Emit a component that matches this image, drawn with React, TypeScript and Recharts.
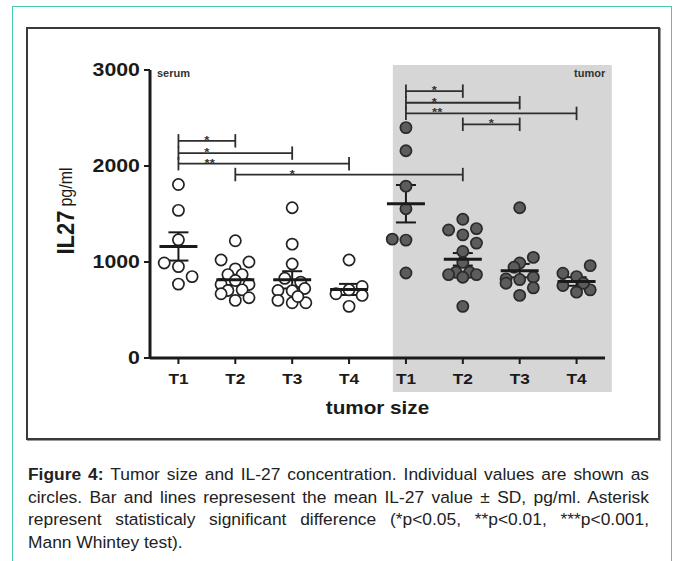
import {
  ScatterChart,
  Scatter,
  XAxis,
  YAxis,
  ErrorBar,
  ReferenceLine,
  ReferenceArea,
  Label,
} from "recharts";

const FONT = "'Liberation Sans', Arial, Helvetica, sans-serif";
const TEAL = "#48c9b4";
const INK = "#1a1a1a";
const CAP = 70;

const GROUP_LABELS = ["T1", "T2", "T3", "T4", "T1", "T2", "T3", "T4"];
const GROUP_POS = [1, 2, 3, 4, 5, 6, 7, 8];
const Y_TICKS = [0, 1000, 2000, 3000];

// individual values (x = group position + jitter)
const serumPoints = [
  { x: 1, y: 1807 }, { x: 1, y: 1538 }, { x: 1, y: 1231 }, { x: 0.75, y: 990 },
  { x: 1, y: 952 }, { x: 1.24, y: 848 }, { x: 1, y: 770 },
  { x: 2, y: 1221 }, { x: 1.75, y: 1021 }, { x: 2.24, y: 1000 }, { x: 2, y: 928 },
  { x: 1.87, y: 869 }, { x: 2.12, y: 869 }, { x: 1.75, y: 766 }, { x: 2, y: 807 },
  { x: 2.24, y: 766 }, { x: 1.87, y: 703 }, { x: 2.12, y: 710 }, { x: 1.75, y: 669 },
  { x: 2, y: 600 }, { x: 2.24, y: 628 },
  { x: 3, y: 1565 }, { x: 3, y: 1186 }, { x: 3, y: 979 }, { x: 2.87, y: 830 },
  { x: 3.15, y: 790 }, { x: 2.75, y: 703 }, { x: 3, y: 700 }, { x: 3.22, y: 724 },
  { x: 2.75, y: 600 }, { x: 3, y: 575 }, { x: 3.24, y: 575 }, { x: 3.1, y: 640 },
  { x: 4, y: 1021 }, { x: 3.77, y: 669 }, { x: 4, y: 710 }, { x: 4.23, y: 745 },
  { x: 4.23, y: 652 }, { x: 4, y: 538 },
];

const tumorPoints = [
  { x: 5, y: 2400 }, { x: 5, y: 2159 }, { x: 5, y: 1790 }, { x: 5, y: 1555 },
  { x: 4.76, y: 1238 }, { x: 5, y: 1228 }, { x: 5, y: 886 },
  { x: 6, y: 1445 }, { x: 5.75, y: 1334 }, { x: 6.24, y: 1348 }, { x: 6, y: 1283 },
  { x: 6.24, y: 1197 }, { x: 6, y: 1110 }, { x: 6, y: 996 }, { x: 5.88, y: 893 },
  { x: 6.12, y: 893 }, { x: 5.75, y: 869 }, { x: 6, y: 841 }, { x: 6.24, y: 869 },
  { x: 6, y: 538 },
  { x: 7, y: 1565 }, { x: 7.24, y: 1048 }, { x: 7, y: 990 }, { x: 6.9, y: 945 },
  { x: 6.76, y: 824 }, { x: 6.76, y: 779 }, { x: 7, y: 817 }, { x: 7.24, y: 841 },
  { x: 7.24, y: 731 }, { x: 7, y: 652 },
  { x: 7.76, y: 883 }, { x: 8, y: 848 }, { x: 8.24, y: 962 }, { x: 7.76, y: 755 },
  { x: 8, y: 686 }, { x: 8.24, y: 710 }, { x: 8.12, y: 779 },
];

const groupMeans = [1162, 814, 814, 714, 1607, 1028, 910, 797];
const groupSem = [147, 55, 90, 58, 195, 65, 70, 45];

// significance brackets
const brackets = [
  { from: 1, to: 2, y: 2262, label: "*", starX: 1.5 },
  { from: 1, to: 3, y: 2134, label: "*", starX: 1.5 },
  { from: 1, to: 4, y: 2024, label: "**", starX: 1.55 },
  { from: 2, to: 6, y: 1911, label: "*", starX: 3 },
  { from: 5, to: 6, y: 2780, label: "*", starX: 5.5 },
  { from: 5, to: 7, y: 2659, label: "*", starX: 5.5 },
  { from: 5, to: 8, y: 2548, label: "**", starX: 5.55 },
  { from: 6, to: 7, y: 2434, label: "*", starX: 6.5 },
];

// caption, one entry per printed line
const captionLines = [
  "Tumor size and IL-27 concentration. Individual values are shown as",
  "circles. Bar and lines represesent the mean IL-27 value ± SD, pg/ml. Asterisk",
  "represent statisticaly significant difference (*p<0.05, **p<0.01, ***p<0.001,",
  "Mann Whintey test).",
];

const meanData = GROUP_POS.map((x, i) => ({ x, y: groupMeans[i], sem: groupSem[i] }));
const starData = brackets.map((b) => ({ x: b.starX, y: b.y, label: b.label }));

function YTick({ x, y, payload }: any) {
  return (
    <text
      transform={`translate(${x},${y}) scale(1.22,1)`}
      textAnchor="end"
      dominantBaseline="central"
      fontFamily={FONT}
      fontWeight={700}
      fontSize={17.5}
      fill={INK}
    >
      {payload.value}
    </text>
  );
}

function XTick({ x, y, payload }: any) {
  return (
    <text
      transform={`translate(${x},${y + 12}) scale(1.15,1)`}
      textAnchor="middle"
      dominantBaseline="central"
      fontFamily={FONT}
      fontWeight={700}
      fontSize={15}
      fill={INK}
    >
      {GROUP_LABELS[payload.value - 1]}
    </text>
  );
}

function SerumDot({ cx, cy }: any) {
  return <circle cx={cx} cy={cy} r={5.6} fill="#fff" stroke="#222" strokeWidth={1.7} />;
}

function TumorDot({ cx, cy }: any) {
  return <circle cx={cx} cy={cy} r={5.6} fill="#5c5c5c" stroke="#2a2a2a" strokeWidth={1.7} />;
}

function MeanMark({ cx, cy }: any) {
  return <line x1={cx - 19} x2={cx + 19} y1={cy} y2={cy} stroke={INK} strokeWidth={3} />;
}

function Star({ cx, cy, payload }: any) {
  return (
    <text
      transform={`translate(${cx},${cy + 3}) scale(1.25,1)`}
      textAnchor="middle"
      fontFamily={FONT}
      fontWeight={700}
      fontSize={10.5}
      fill="#333"
    >
      {payload.label}
    </text>
  );
}

export default function App() {
  return (
    <div style={{ position: "absolute", left: 0, top: 0, width: 676, height: 561, overflow: "hidden", background: "#fff" }}>
      <div
        style={{
          position: "absolute",
          left: 12,
          top: 6,
          width: 660,
          height: 600,
          border: `1.5px solid ${TEAL}`,
          boxSizing: "border-box",
        }}
      />
      <div
        style={{
          position: "absolute",
          left: 26,
          top: 27,
          width: 634,
          height: 413,
          border: "2px solid #3a3a3a",
          boxShadow: "1px 1px 0 #9a9a9a",
          boxSizing: "border-box",
        }}
      />
      <div style={{ position: "absolute", left: 0, top: 0 }}>
        <ScatterChart width={676} height={440} margin={{ top: 70, right: 71, bottom: 0, left: 90 }}>
          <ReferenceArea
            x1={4.77}
            x2={8.62}
            y1={-354}
            y2={3052}
            fill="#d6d6d6"
            fillOpacity={1}
            stroke="none"
            ifOverflow="visible"
          />
          <XAxis
            type="number"
            dataKey="x"
            domain={[0.5, 8.5]}
            ticks={GROUP_POS}
            height={82}
            tick={<XTick />}
            tickSize={6}
            tickMargin={2}
            axisLine={{ stroke: INK, strokeWidth: 3 }}
            tickLine={{ stroke: INK, strokeWidth: 2 }}
          >
            <Label
              content={({ viewBox }: any) => (
                <text
                  transform={`translate(${viewBox.x + viewBox.width / 2},${viewBox.y + 50}) scale(1.15,1)`}
                  textAnchor="middle"
                  dominantBaseline="central"
                  fontFamily={FONT}
                  fontWeight={700}
                  fontSize={18}
                  fill={INK}
                >
                  tumor size
                </text>
              )}
            />
          </XAxis>
          <YAxis
            type="number"
            dataKey="y"
            domain={[0, 3000]}
            ticks={Y_TICKS}
            width={60}
            tick={<YTick />}
            tickSize={6}
            tickMargin={4}
            axisLine={{ stroke: INK, strokeWidth: 3 }}
            tickLine={{ stroke: INK, strokeWidth: 2 }}
          >
            <Label
              content={({ viewBox }: any) => (
                <text
                  transform={`translate(${viewBox.x - 24},${viewBox.y + viewBox.height / 2 - 3}) scale(1.12,1) rotate(-90)`}
                  textAnchor="middle"
                  dominantBaseline="central"
                  fontFamily={FONT}
                  fill={INK}
                >
                  <tspan fontWeight={700} fontSize={22}>IL27</tspan>
                  <tspan fontSize={16} dx={4}>pg/ml</tspan>
                </text>
              )}
            />
          </YAxis>
          {brackets.map((b, i) => (
            <ReferenceLine
              key={`h${i}`}
              segment={[{ x: b.from, y: b.y }, { x: b.to, y: b.y }]}
              stroke="#2e2e2e"
              strokeWidth={1.8}
              ifOverflow="visible"
            />
          ))}
          {brackets.map((b, i) => (
            <ReferenceLine
              key={`l${i}`}
              segment={[{ x: b.from, y: b.y - CAP }, { x: b.from, y: b.y + CAP }]}
              stroke="#2e2e2e"
              strokeWidth={1.8}
              ifOverflow="visible"
            />
          ))}
          {brackets.map((b, i) => (
            <ReferenceLine
              key={`r${i}`}
              segment={[{ x: b.to, y: b.y - CAP }, { x: b.to, y: b.y + CAP }]}
              stroke="#2e2e2e"
              strokeWidth={1.8}
              ifOverflow="visible"
            />
          ))}
          <Scatter data={serumPoints} shape={<SerumDot />} isAnimationActive={false} />
          <Scatter data={tumorPoints} shape={<TumorDot />} isAnimationActive={false} />
          <Scatter data={meanData} shape={<MeanMark />} isAnimationActive={false}>
            <ErrorBar dataKey="sem" direction="y" width={10} stroke={INK} strokeWidth={2} />
          </Scatter>
          <Scatter data={starData} shape={<Star />} isAnimationActive={false} />
        </ScatterChart>
      </div>
      <div style={{ position: "absolute", left: 157, top: 67, fontFamily: FONT, fontSize: 11, fontWeight: 700, color: "#333" }}>
        serum
      </div>
      <div style={{ position: "absolute", left: 574, top: 67, fontFamily: FONT, fontSize: 11, fontWeight: 700, color: "#333" }}>
        tumor
      </div>
      <div
        style={{
          position: "absolute",
          left: 28,
          top: 463,
          width: 621,
          fontFamily: FONT,
          fontSize: 17.4,
          lineHeight: "22.5px",
          color: "#222",
        }}
      >
        {captionLines.map((line, i) => (
          <div
            key={i}
            style={{
              whiteSpace: "nowrap",
              textAlign: "justify",
              textAlignLast: i < captionLines.length - 1 ? "justify" : "left",
            }}
          >
            {i === 0 ? (
              <>
                <b>Figure 4:</b> {line}
              </>
            ) : (
              line
            )}
          </div>
        ))}
      </div>
    </div>
  );
}
